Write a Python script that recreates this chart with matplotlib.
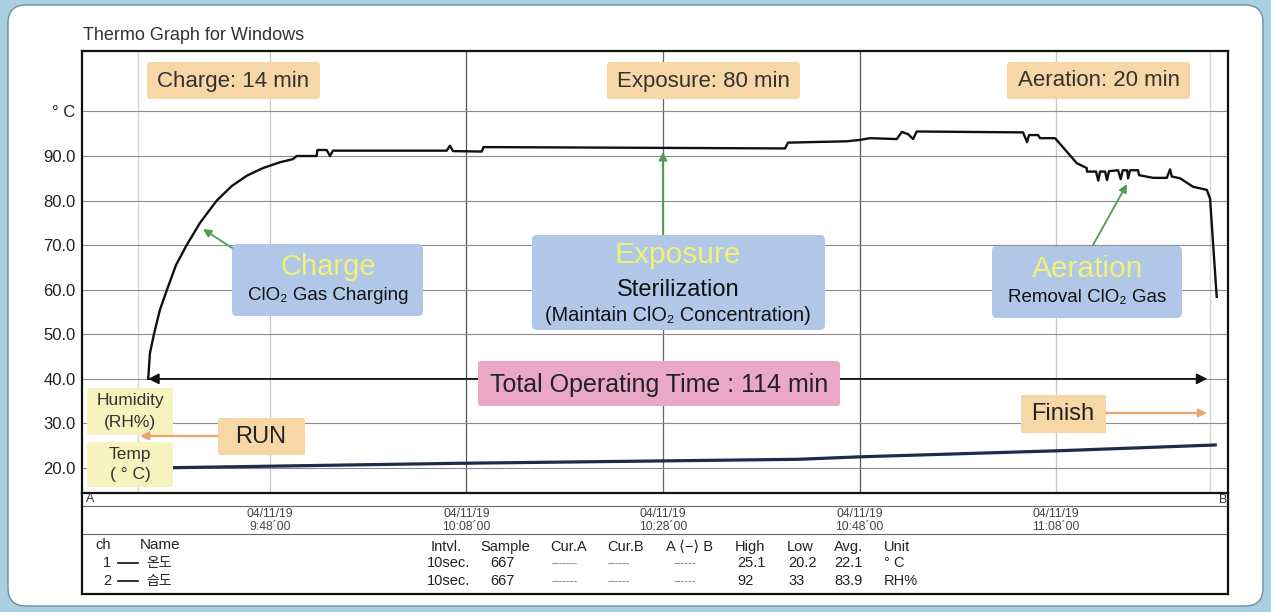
import matplotlib
matplotlib.use('Agg')
import matplotlib.pyplot as plt
from matplotlib.patches import FancyBboxPatch, FancyArrowPatch
from matplotlib.lines import Line2D
from matplotlib.transforms import Affine2D

plt.rcParams['font.family'] = ['Liberation Sans', 'DejaVu Sans', 'Noto Sans CJK KR']

# ---------------- data (minutes after 9:48:00) ----------------
hum_min = [-12.39, -12.22, -11.81, -11.2, -10.48, -9.57, -8.48, -7.12, -5.42, -3.87, -2.34,
           -0.71, 1.02, 2.34, 2.72, 4.75, 4.83, 5.77, 6.11, 6.41, 17.98, 18.32, 18.63,
           21.55, 21.73, 52.42, 52.72, 58.7, 60.0, 61.07, 63.79, 64.3, 64.94, 65.45, 65.82,
           76.64, 77.05, 77.25, 78.17, 78.37, 79.9, 82.11, 83.12, 83.15, 84.07, 84.3, 84.48,
           84.99, 85.19, 85.39, 86.31, 86.58, 86.79, 87.23, 87.33, 87.53, 88.35, 88.45,
           89.87, 91.27, 91.6, 91.78, 92.62, 93.94, 95.34, 95.67, 96.35]
hum_val = [40.0, 45.7, 50.0, 55.5, 60.0, 65.5, 70.0, 75.0, 80.0, 83.3, 85.6,
           87.3, 88.6, 89.3, 90.0, 90.0, 91.35, 91.35, 90.0, 91.2, 91.2, 92.3, 91.1,
           91.0, 92.0, 91.7, 93.0, 93.3, 93.6, 94.0, 93.8, 95.4, 94.9, 93.8, 95.5,
           95.3, 93.1, 94.7, 94.7, 94.0, 94.0, 88.4, 87.3, 86.5, 86.5, 84.5, 86.5,
           86.5, 84.6, 86.6, 86.8, 84.8, 86.8, 86.8, 85.0, 86.8, 86.8, 85.7,
           85.1, 85.1, 87.0, 85.4, 85.0, 83.1, 82.4, 80.5, 58.4]
temp_min = [-9.87, 19.13, 53.8, 59.95, 80.7, 96.2]
temp_val = [20.07, 21.05, 21.95, 22.5, 23.9, 25.16]
cursor_min = [-13.4, 95.7]
run_start, run_end = -12.4, 95.4

tick_min = [0, 20, 40, 60, 80]
tick_dates = ['04/11/19'] * 5
tick_times = ['9:48\u00b400', '10:08\u00b400', '10:28\u00b400', '10:48\u00b400', '11:08\u00b400']
ytick_vals = [20, 30, 40, 50, 60, 70, 80, 90, 100]
ytick_labels = ['20.0', '30.0', '40.0', '50.0', '60.0', '70.0', '80.0', '90.0', '\u00b0 C']

phase_labels = ['Charge: 14 min', 'Exposure: 80 min', 'Aeration: 20 min']
total_label = 'Total Operating Time : 114 min'

tbl_ch = ['1', '2']
tbl_name = ['온도', '습도']
tbl_intvl = ['10sec.', '10sec.']
tbl_sample = ['667', '667']
tbl_high = ['25.1', '92']
tbl_low = ['20.2', '33']
tbl_avg = ['22.1', '83.9']
tbl_unit = ['\u00b0 C', 'RH%']

# ---------------- figure ----------------
W, H = 1271, 612
fig = plt.figure(figsize=(W / 100, H / 100), dpi=100)
fig.patch.set_facecolor('#a9cfe2')
T = Affine2D().scale(1, -1).translate(0, H)   # pixel coords, y from top

def fx(x):
    return x / W

def fy(y):
    return 1 - y / H

panel = FancyBboxPatch((8, 5), 1255, 601, boxstyle='round,pad=0,rounding_size=18',
                       transform=T, facecolor='white', edgecolor='#6f8e9c', lw=1.0, zorder=-5)
fig.add_artist(panel)

L, R, TOP, BOT = 82, 1228, 51, 492.5
ax = fig.add_axes([fx(L), fy(BOT), (R - L) / W, (BOT - TOP) / H])
ax.set_xlim(-19.13, 97.5)
ax.set_ylim(14.5, 113.56)

ax.set_yticks(ytick_vals, ytick_labels)
ax.set_xticks(tick_min, [d + '\n' + t for d, t in zip(tick_dates, tick_times)])
ax.tick_params(axis='y', length=0, pad=4.5, labelsize=12, labelcolor='#222')
ax.tick_params(axis='x', length=0, pad=11.5, labelsize=8.7, labelcolor='#444')
for lab in ax.get_xticklabels():
    lab.set_linespacing(1.05)
ax.yaxis.grid(True, color='#8c8c8c', lw=0.8)
vcols = ['#b9cfc8', '#555555', '#666666', '#555555', '#b9cfc8']
for m, c in zip(tick_min, vcols):
    ax.axvline(m, color=c, lw=0.9, zorder=0.5)
for m in cursor_min:
    ax.axvline(m, color='#cfe0c4', lw=1.0, zorder=0.5)
for s in ax.spines.values():
    s.set_linewidth(1.6)
    s.set_color('#111')

ax.plot(hum_min, hum_val, color='#111111', lw=1.7, zorder=3)
ax.plot(temp_min, temp_val, color='#1e2c4c', lw=2.3, zorder=3)

ax.annotate('', xy=(run_start, 40), xytext=(run_end, 40),
            arrowprops=dict(arrowstyle='<|-|>', color='#111', lw=1.2,
                            mutation_scale=16, shrinkA=0, shrinkB=0), zorder=3)

# ---------------- bottom frame / band ----------------
def hline(y, x0=L, x1=R, lw=0.8, color='#555'):
    fig.add_artist(Line2D([x0, x1], [y, y], transform=T, lw=lw, color=color))

def vline(x, y0, y1, lw=1.6, color='#111'):
    fig.add_artist(Line2D([x, x], [y0, y1], transform=T, lw=lw, color=color))

hline(505.5, lw=0.8, color='#666')
hline(534, lw=0.8, color='#666')
hline(594, lw=1.6, color='#111')
vline(L, BOT, 594)
vline(R, BOT, 594)

def txt(x, y, s, size=10.5, ha='left', va='center', color='#222', **kw):
    fig.text(x, y, s, transform=T, fontsize=size, ha=ha, va=va, color=color, **kw)

txt(86, 499, 'A', size=9, color='#333')
txt(1227, 500, 'B', size=9, ha='right', color='#333')
txt(83, 35, 'Thermo Graph for Windows', size=13, color='#333')

# table
txt(95, 545, 'ch')
txt(140, 545, 'Name', size=11)
rows_y = [563, 581]
cols = [(431, 'Intvl.'), (480, 'Sample'), (550, 'Cur.A'), (607, 'Cur.B'),
        (666, 'A \u27e8\u2212\u27e9 B'), (735, 'High'), (787, 'Low'), (834, 'Avg.'), (884, 'Unit')]
for x, s in cols:
    txt(x, 547, s)
for i, y in enumerate(rows_y):
    txt(103, y, tbl_ch[i])
    fig.add_artist(Line2D([118, 138], [y, y], transform=T, lw=1.3, color='#222'))
    txt(146, y, tbl_name[i], family=['Noto Sans CJK KR', 'DejaVu Sans'], size=10)
    txt(427, y, tbl_intvl[i])
    txt(490, y, tbl_sample[i])
    txt(551, y, '-------', size=8, color='#666')
    txt(608, y, '------', size=8, color='#666')
    txt(674, y, '------', size=8, color='#666')
    txt(737, y, tbl_high[i])
    txt(788, y, tbl_low[i])
    txt(834, y, tbl_avg[i])
    txt(884, y, tbl_unit[i])

# ---------------- annotation boxes ----------------
def box(x0, y0, x1, y1, color, r=3, z=4):
    p = FancyBboxPatch((x0, y0), x1 - x0, y1 - y0,
                       boxstyle='round,pad=0,rounding_size=%g' % r,
                       transform=T, facecolor=color, edgecolor='none', zorder=z)
    fig.add_artist(p)

def arrow(p0, p1, color, lw=1.3, ms=12, z=5):
    a = FancyArrowPatch(p0, p1, transform=T, arrowstyle='-|>', mutation_scale=ms,
                        color=color, lw=lw, shrinkA=0, shrinkB=0, zorder=z)
    fig.add_artist(a)

ORANGE = '#f8d7a6'
BLUE = '#b0c7e8'
YEL = '#f2f272'
GREEN = '#4e9c52'
PALE = '#f7f3be'

# phase time boxes
for (x0, x1), s in zip([(147, 320), (607, 800), (1007, 1190)], phase_labels):
    box(x0, 62, x1, 99, ORANGE)
    fig.text((x0 + x1) / 2, 81, s, transform=T, fontsize=16, ha='center', va='center',
             color='#333', zorder=6)

# blue boxes
box(232, 244, 423, 316, BLUE, r=5)
fig.text(328, 275, 'Charge', transform=T, fontsize=21, ha='center', va='baseline', color=YEL, zorder=6)
fig.text(328, 300, 'ClO\u2082 Gas Charging', transform=T, fontsize=13.5, ha='center', va='baseline', color='#111', zorder=6)
arrow((232, 248), (203, 229), GREEN)

box(532, 235, 825, 330, BLUE, r=5)
fig.text(678, 263, 'Exposure', transform=T, fontsize=21.5, ha='center', va='baseline', color=YEL, zorder=6)
fig.text(678, 296.5, 'Sterilization', transform=T, fontsize=17, ha='center', va='baseline', color='#111', zorder=6)
fig.text(678, 321, '(Maintain ClO\u2082 Concentration)', transform=T, fontsize=14.3, ha='center', va='baseline', color='#111', zorder=6)
arrow((663, 234), (663, 152), GREEN)

box(992, 246, 1182, 318, BLUE, r=5)
fig.text(1088, 277, 'Aeration', transform=T, fontsize=21.5, ha='center', va='baseline', color=YEL, zorder=6)
fig.text(1087, 301.5, 'Removal ClO\u2082 Gas', transform=T, fontsize=13.5, ha='center', va='baseline', color='#111', zorder=6)
arrow((1093, 245), (1127, 184), GREEN)

# total time
box(478, 361, 840, 406, '#eba8c6', r=3)
fig.text(659, 385, total_label, transform=T, fontsize=18, ha='center', va='center', color='#222', zorder=6)

# humidity / temp labels
box(87, 388, 173, 435, PALE, r=2)
fig.text(130, 401, 'Humidity', transform=T, fontsize=12.5, ha='center', va='center', color='#333', zorder=6)
fig.text(130, 422, '(RH%)', transform=T, fontsize=12.5, ha='center', va='center', color='#333', zorder=6)
box(87, 442, 173, 487, PALE, r=2)
fig.text(130, 455, 'Temp', transform=T, fontsize=12.5, ha='center', va='center', color='#333', zorder=6)
fig.text(130, 474, '( \u00b0 C)', transform=T, fontsize=12.5, ha='center', va='center', color='#333', zorder=6)

# RUN / Finish
box(218, 418, 305, 455, ORANGE, r=2)
fig.text(261, 437, 'RUN', transform=T, fontsize=17, ha='center', va='center', color='#222', zorder=6)
arrow((218, 436), (140, 436), '#eaa56c', lw=1.6, ms=12)
box(1021, 395, 1106, 433, ORANGE, r=2)
fig.text(1063, 414, 'Finish', transform=T, fontsize=17, ha='center', va='center', color='#222', zorder=6)
arrow((1106, 413), (1207, 413), '#eaa56c', lw=1.6, ms=12)

fig.savefig('out.png', dpi=100, facecolor=fig.get_facecolor())
